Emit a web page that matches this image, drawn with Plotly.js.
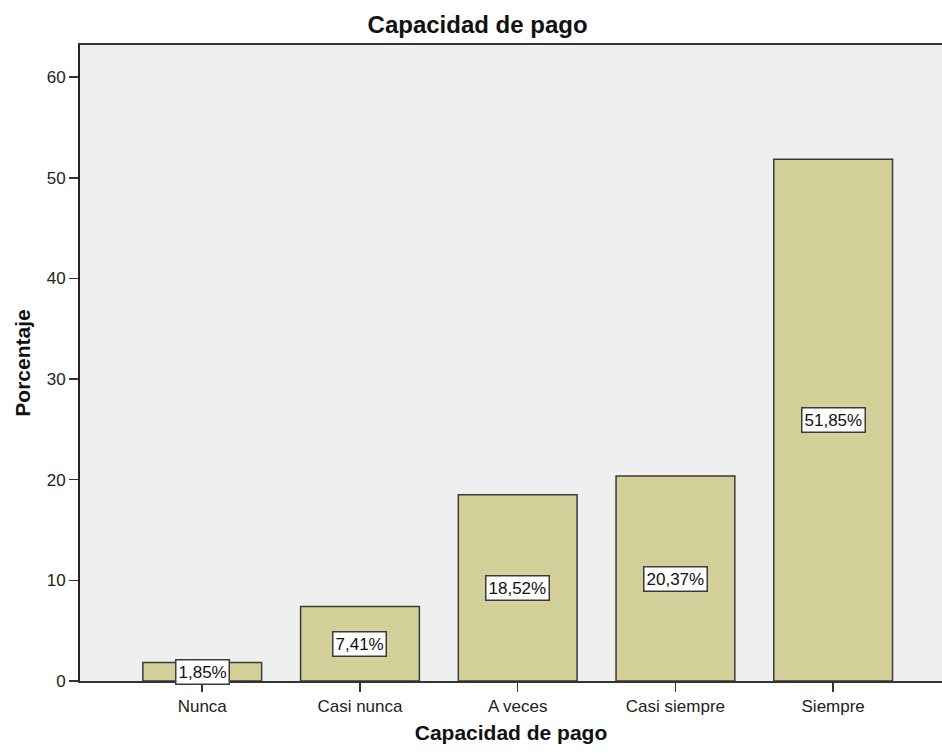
<!DOCTYPE html>
<html>
<head>
<meta charset="utf-8">
<script src="https://cdn.plot.ly/plotly-3.0.1.min.js"></script>
<style>
  html, body { margin: 0; padding: 0; background: #ffffff; }
  #chart { width: 942px; height: 753px; }
</style>
</head>
<body>
<div id="chart"></div>
<script>
// Frecuencias relativas de "Capacidad de pago"
const categories = ['Nunca', 'Casi nunca', 'A veces', 'Casi siempre', 'Siempre'];
const percentages = [1.85, 7.41, 18.52, 20.37, 51.85];
const yTickValues = [0, 10, 20, 30, 40, 50, 60];

const FONT = 'Liberation Sans, Arial, sans-serif';

function fmt(v) {
  return v.toFixed(2).replace('.', ',') + '%';
}

const trace = {
  type: 'bar',
  x: categories,
  y: percentages,
  width: 0.753,
  marker: {
    color: '#d3cf98',
    line: { color: '#3a3a3a', width: 1.5 }
  },
  hoverinfo: 'skip'
};

// Etiquetas en recuadro blanco, centradas en la mitad de cada barra
const labels = categories.map((c, i) => ({
  x: c,
  y: percentages[i] / 2,
  xref: 'x',
  yref: 'y',
  text: fmt(percentages[i]),
  showarrow: false,
  bgcolor: '#ffffff',
  bordercolor: '#3a3a3a',
  borderwidth: 1.5,
  borderpad: 2,
  font: { family: FONT, size: 17, color: '#111111' }
}));

const layout = {
  width: 942,
  height: 753,
  margin: { l: 80, r: 0, t: 45, b: 72 },
  paper_bgcolor: '#ffffff',
  plot_bgcolor: '#efefef',
  showlegend: false,
  title: {
    text: '<b>Capacidad de pago</b>',
    font: { family: FONT, size: 24, color: '#111111' },
    x: 0.507,
    xanchor: 'center',
    y: 0.967,
    yanchor: 'middle'
  },
  xaxis: {
    type: 'category',
    range: [-0.775, 4.69],
    showline: true,
    linecolor: '#333333',
    linewidth: 2,
    mirror: true,
    showgrid: false,
    zeroline: false,
    ticks: 'outside',
    ticklen: 9,
    tickwidth: 1.5,
    tickcolor: '#333333',
    tickfont: { family: FONT, size: 17, color: '#222222' },
    title: {
      text: '<b>Capacidad de pago</b>',
      font: { family: FONT, size: 21, color: '#111111' },
      standoff: 10
    }
  },
  yaxis: {
    range: [0, 63.2],
    tickvals: yTickValues,
    ticktext: yTickValues.map(String),
    showline: true,
    linecolor: '#222222',
    linewidth: 2,
    showgrid: false,
    zeroline: false,
    ticks: 'outside',
    ticklen: 9,
    tickwidth: 1.5,
    tickcolor: '#333333',
    tickfont: { family: FONT, size: 17, color: '#222222' },
    title: {
      text: '<b>Porcentaje</b>',
      font: { family: FONT, size: 21, color: '#111111' },
      standoff: 10
    }
  },
  annotations: labels
};

Plotly.newPlot('chart', [trace], layout, { displayModeBar: false, staticPlot: true });
</script>
</body>
</html>
